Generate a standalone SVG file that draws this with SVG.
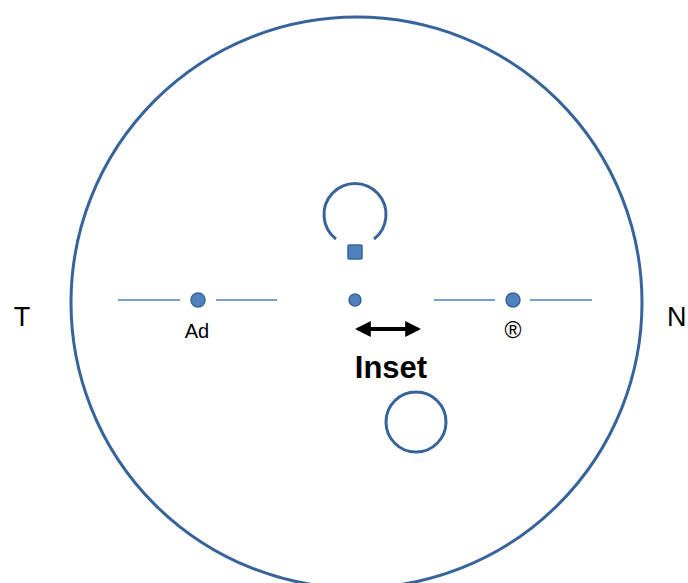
<svg xmlns="http://www.w3.org/2000/svg" width="688" height="583" viewBox="0 0 688 583">
<style>
.ring{fill:none;stroke:#37649a;stroke-width:3}
.dot{fill:#4f81bd;stroke:#37649a;stroke-width:1.5}
.ln{stroke:#4f81bd;stroke-width:1.5}
.lbl{font-family:"Liberation Sans",Arial,sans-serif;fill:#000}
</style>
<defs>
<marker id="ah" viewBox="0 0 10 10" refX="8" refY="5" markerWidth="4" markerHeight="4" orient="auto-start-reverse">
<path d="M0,0 L10,5 L0,10 z" fill="#000"/>
</marker>
</defs>
<rect width="688" height="583" fill="#fff"/>
<g id="eye"><circle class="ring" cx="356.5" cy="302.5" r="285.5"/></g>
<g id="arc"><path class="ring" d="M336,239 A31,31 0 1 1 374,239"/></g>
<g id="square"><rect x="348" y="245" width="14" height="14" fill="#4f81bd" stroke="#37649a" stroke-width="1.5" rx="1"/></g>
<g id="center-dot"><circle class="dot" cx="355" cy="300" r="6"/></g>
<g id="ad">
<line class="ln" x1="118" y1="300" x2="180" y2="300"/>
<line class="ln" x1="216" y1="300" x2="277" y2="300"/>
<circle class="dot" cx="198" cy="300" r="7"/>
<text class="lbl" x="197" y="338" font-size="20" text-anchor="middle">Ad</text>
</g>
<g id="r">
<line class="ln" x1="434" y1="300" x2="495" y2="300"/>
<line class="ln" x1="530" y1="300" x2="592" y2="300"/>
<circle class="dot" cx="513" cy="300" r="7"/>
<text class="lbl" x="513" y="338" font-size="23" text-anchor="middle">®</text>
</g>
<g id="lower-circle"><circle class="ring" cx="416" cy="422" r="30"/></g>
<g id="connectors">
<line x1="358" y1="329" x2="418" y2="329" stroke="#000" stroke-width="4" marker-start="url(#ah)" marker-end="url(#ah)"/>
</g>
<text class="lbl" x="391" y="378" font-size="31" font-weight="bold" text-anchor="middle">Inset</text>
<text class="lbl" x="22" y="326" font-size="27" text-anchor="middle">T</text>
<text class="lbl" x="667" y="326" font-size="27">N</text>
</svg>
